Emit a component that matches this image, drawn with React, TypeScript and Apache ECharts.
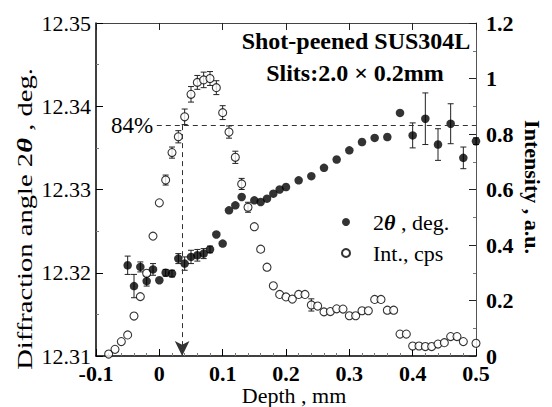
import { useEffect, useRef } from 'react';
import * as echarts from 'echarts';

// ---- data ----
const thetaDepth = [-0.05, -0.04, -0.03, -0.02, -0.01, 0, 0.01, 0.02, 0.03, 0.04, 0.05, 0.06, 0.07, 0.08, 0.09, 0.1, 0.11, 0.12, 0.13, 0.15, 0.16, 0.17, 0.18, 0.19, 0.2, 0.22, 0.24, 0.26, 0.28, 0.3, 0.32, 0.34, 0.36, 0.38, 0.4, 0.42, 0.44, 0.46, 0.48, 0.5];
const thetaValues = [12.3209, 12.3184, 12.3207, 12.319, 12.3204, 12.3191, 12.32, 12.3199, 12.3217, 12.3211, 12.3219, 12.3221, 12.3223, 12.3228, 12.3246, 12.3235, 12.3275, 12.3281, 12.3291, 12.3287, 12.3285, 12.3289, 12.3295, 12.33, 12.3303, 12.3311, 12.3316, 12.3326, 12.3336, 12.3347, 12.3357, 12.3362, 12.3363, 12.3392, 12.3365, 12.3385, 12.3354, 12.3379, 12.3338, 12.3358];
const thetaErrors = [0.0011, 0.0014, 0.0006, 0.0006, 0.0007, 0, 0.0004, 0.0004, 0.0006, 0.0008, 0.0008, 0.0007, 0.0006, 0.0004,
  0, 0, 0, 0, 0, 0, 0, 0, 0, 0, 0, 0, 0, 0, 0, 0, 0, 0, 0, 0,
  0.0015, 0.0031, 0.0019, 0.0024, 0.0013, 0.0004];

const intDepth = [-0.08, -0.07, -0.06, -0.05, -0.04, -0.03, -0.02, -0.01, 0, 0.01, 0.02, 0.03, 0.04, 0.05, 0.06, 0.07, 0.08, 0.09, 0.1, 0.11, 0.12, 0.13, 0.14, 0.15, 0.16, 0.17, 0.18, 0.19, 0.2, 0.21, 0.22, 0.23, 0.24, 0.25, 0.26, 0.27, 0.28, 0.29, 0.3, 0.31, 0.32, 0.33, 0.34, 0.35, 0.36, 0.37, 0.38, 0.39, 0.4, 0.41, 0.42, 0.43, 0.44, 0.45, 0.46, 0.47, 0.48, 0.5];
const intValues = [0.007, 0.024, 0.052, 0.076, 0.144, 0.214, 0.298, 0.432, 0.552, 0.634, 0.733, 0.79, 0.862, 0.943, 0.986, 0.995, 1.0, 0.967, 0.877, 0.807, 0.716, 0.62, 0.536, 0.466, 0.385, 0.32, 0.253, 0.222, 0.213, 0.205, 0.222, 0.222, 0.184, 0.18, 0.159, 0.16, 0.17, 0.169, 0.145, 0.145, 0.163, 0.163, 0.204, 0.204, 0.165, 0.165, 0.079, 0.079, 0.036, 0.036, 0.034, 0.034, 0.043, 0.048, 0.07, 0.07, 0.052, 0.046];
const intErrors = [0, 0, 0, 0, 0, 0, 0, 0, 0,
  0.018, 0.02, 0.022, 0.028, 0.028, 0.025, 0.028, 0.025, 0.025, 0.025, 0.022, 0.022, 0.02, 0.018,
  0, 0, 0, 0, 0, 0, 0, 0, 0,
  0.022,
  0, 0, 0, 0, 0, 0, 0, 0, 0, 0, 0, 0, 0, 0, 0, 0, 0, 0, 0, 0, 0, 0, 0, 0, 0];

const xTickLabels = ['-0.1', '0', '0.1', '0.2', '0.3', '0.4', '0.5'];
const leftTickLabels = ['12.31', '12.32', '12.33', '12.34', '12.35'];
const rightTickLabels = ['0', '0.2', '0.4', '0.6', '0.8', '1', '1.2'];

const level84 = 0.832;
const depth84 = 0.036;
const level84Start = -0.004;

const FONT = 'Liberation Serif';

function errorBars(xs: number[], ys: number[], errs: number[], yAxisIndex: number) {
  const data = xs
    .map((x, i) => [x, ys[i] - errs[i], ys[i] + errs[i], errs[i]])
    .filter((d) => d[3] > 0);
  return {
    type: 'custom',
    yAxisIndex,
    silent: true,
    z: 1,
    data,
    encode: { x: 0, y: [1, 2] },
    renderItem: (_params: any, api: any) => {
      const x = api.value(0);
      const lo = api.coord([x, api.value(1)]);
      const hi = api.coord([x, api.value(2)]);
      const w = 3;
      const st = { stroke: '#222', lineWidth: 1 };
      return {
        type: 'group',
        children: [
          { type: 'line', shape: { x1: lo[0], y1: lo[1], x2: hi[0], y2: hi[1] }, style: st },
          { type: 'line', shape: { x1: lo[0] - w, y1: lo[1], x2: lo[0] + w, y2: lo[1] }, style: st },
          { type: 'line', shape: { x1: hi[0] - w, y1: hi[1], x2: hi[0] + w, y2: hi[1] }, style: st },
        ],
      };
    },
  };
}

const lookup = (labels: string[], min: number, step: number) => (v: number) => {
  const i = Math.round((v - min) / step);
  return labels[i] ?? '';
};

export default function App() {
  const ref = useRef<HTMLDivElement>(null);
  useEffect(() => {
    if (!ref.current) return;
    const chart = echarts.init(ref.current, undefined, { renderer: 'svg' });
    const option: any = {
      animation: false,
      backgroundColor: '#fff',
      grid: { left: 96, right: 76, top: 23, bottom: 51 },
      xAxis: [
        {
          type: 'value', min: -0.1, max: 0.5, interval: 0.1, position: 'bottom',
          axisLine: { show: true, onZero: false, lineStyle: { color: '#000', width: 1.5 } },
          axisTick: { show: true, inside: true, length: 7, lineStyle: { color: '#000', width: 1 } },
          minorTick: { show: true, splitNumber: 5, length: 3, lineStyle: { color: '#777' } },
          axisLabel: { fontFamily: FONT, fontSize: 22, lineHeight: 16, color: '#000', fontWeight: 'bold', margin: 9, formatter: lookup(xTickLabels, -0.1, 0.1) },
          splitLine: { show: false },
        },
        {
          type: 'value', min: -0.1, max: 0.5, interval: 0.1, position: 'top',
          axisLine: { show: true, onZero: false, lineStyle: { color: '#444', width: 1 } },
          axisTick: { show: true, inside: true, length: 7, lineStyle: { color: '#222', width: 1 } },
          axisLabel: { show: false },
          splitLine: { show: false },
        },
      ],
      yAxis: [
        {
          type: 'value', min: 12.31, max: 12.35, interval: 0.01, position: 'left',
          axisLine: { show: true, onZero: false, lineStyle: { color: '#000', width: 1.5 } },
          axisTick: { show: true, inside: true, length: 7, lineStyle: { color: '#000', width: 1 } },
          minorTick: { show: true, splitNumber: 2, length: 3, lineStyle: { color: '#777' } },
          axisLabel: { fontFamily: FONT, fontSize: 22, lineHeight: 16, color: '#000', margin: 5, formatter: lookup(leftTickLabels, 12.31, 0.01) },
          splitLine: { show: false },
        },
        {
          type: 'value', min: 0, max: 1.2, interval: 0.2, position: 'right',
          axisLine: { show: true, onZero: false, lineStyle: { color: '#555', width: 1 } },
          axisTick: { show: true, inside: true, length: 7, lineStyle: { color: '#222', width: 1 } },
          minorTick: { show: true, splitNumber: 2, length: 3, lineStyle: { color: '#777' } },
          axisLabel: { fontFamily: FONT, fontSize: 22, lineHeight: 16, color: '#000', fontWeight: 'bold', margin: 10, formatter: lookup(rightTickLabels, 0, 0.2) },
          splitLine: { show: false },
        },
      ],
      legend: {
        orient: 'vertical', left: 336, top: 206, itemWidth: 44, itemHeight: 8, itemGap: 9,
        selectedMode: false,
        data: [{ name: 'theta', icon: 'circle' }, { name: 'int', icon: 'circle' }],
        formatter: (n: string) => (n === 'theta' ? '{n|2}{t|θ}{n| , deg.}' : '{n|Int., cps}'),
        textStyle: {
          fontFamily: FONT, fontSize: 22, color: '#000',
          rich: {
            n: { fontFamily: FONT, fontSize: 22, color: '#000' },
            t: { fontFamily: FONT, fontSize: 22, fontStyle: 'italic', fontWeight: 'bold', color: '#000' },
          },
        },
      },
      series: [
        errorBars(intDepth, intValues, intErrors, 1),
        {
          name: 'int', type: 'scatter', yAxisIndex: 1, z: 2,
          symbol: 'circle', symbolSize: 8,
          itemStyle: { color: '#fff', borderColor: '#000', borderWidth: 1.1 },
          data: intDepth.map((d, i) => [d, intValues[i]]),
          markLine: {
            silent: true, animation: false,
            label: { show: false },
            lineStyle: { color: '#333', width: 1, type: [5, 4] },
            data: [
              [
                { coord: [level84Start, level84], symbol: 'none' },
                { coord: [0.5, level84], symbol: 'none' },
              ],
              [
                { coord: [depth84, level84], symbol: 'none' },
                { coord: [depth84, 0], symbol: 'arrow', symbolSize: [11, 15] },
              ],
            ],
          },
        },
        errorBars(thetaDepth, thetaValues, thetaErrors, 0),
        {
          name: 'theta', type: 'scatter', yAxisIndex: 0, z: 3,
          symbol: 'circle', symbolSize: 8.5,
          itemStyle: { color: '#000' },
          data: thetaDepth.map((d, i) => [d, thetaValues[i]]),
        },
      ],
      graphic: [
        {
          type: 'text', x: 356, y: 41,
          style: { text: 'Shot-peened SUS304L', fontFamily: FONT, fontSize: 24, fontWeight: 'bold', fill: '#000', align: 'center', verticalAlign: 'middle' },
        },
        {
          type: 'text', x: 355, y: 73,
          style: { text: 'Slits:2.0 × 0.2mm', fontFamily: FONT, fontSize: 24, fontWeight: 'bold', fill: '#000', align: 'center', verticalAlign: 'middle' },
        },
        {
          type: 'text', x: 132, y: 125,
          style: { text: '84%', fontFamily: FONT, fontSize: 23, fill: '#000', align: 'center', verticalAlign: 'middle' },
        },
        {
          type: 'text', x: 294, y: 395.5,
          style: { text: 'Depth , mm', fontFamily: FONT, fontSize: 22, lineHeight: 20, fill: '#000', align: 'center', verticalAlign: 'middle' },
        },
        {
          type: 'text', x: 25, y: 219, rotation: Math.PI / 2, scaleX: 1.3,
          style: {
            text: 'Diffraction angle 2{t|θ} , deg.', fontFamily: FONT, fontSize: 22, fill: '#000', align: 'center', verticalAlign: 'middle',
            rich: { t: { fontFamily: FONT, fontSize: 22, fontStyle: 'italic', fontWeight: 'bold', fill: '#000' } },
          },
        },
        {
          type: 'text', x: 532, y: 187, rotation: -Math.PI / 2,
          style: { text: 'Intensity , a.u.', fontFamily: FONT, fontSize: 22, fontWeight: 'bold', fill: '#000', align: 'center', verticalAlign: 'middle' },
        },
      ],
    };
    chart.setOption(option);
    return () => chart.dispose();
  }, []);
  return <div ref={ref} style={{ position: 'fixed', left: 0, top: 0, width: 552, height: 407 }} />;
}
